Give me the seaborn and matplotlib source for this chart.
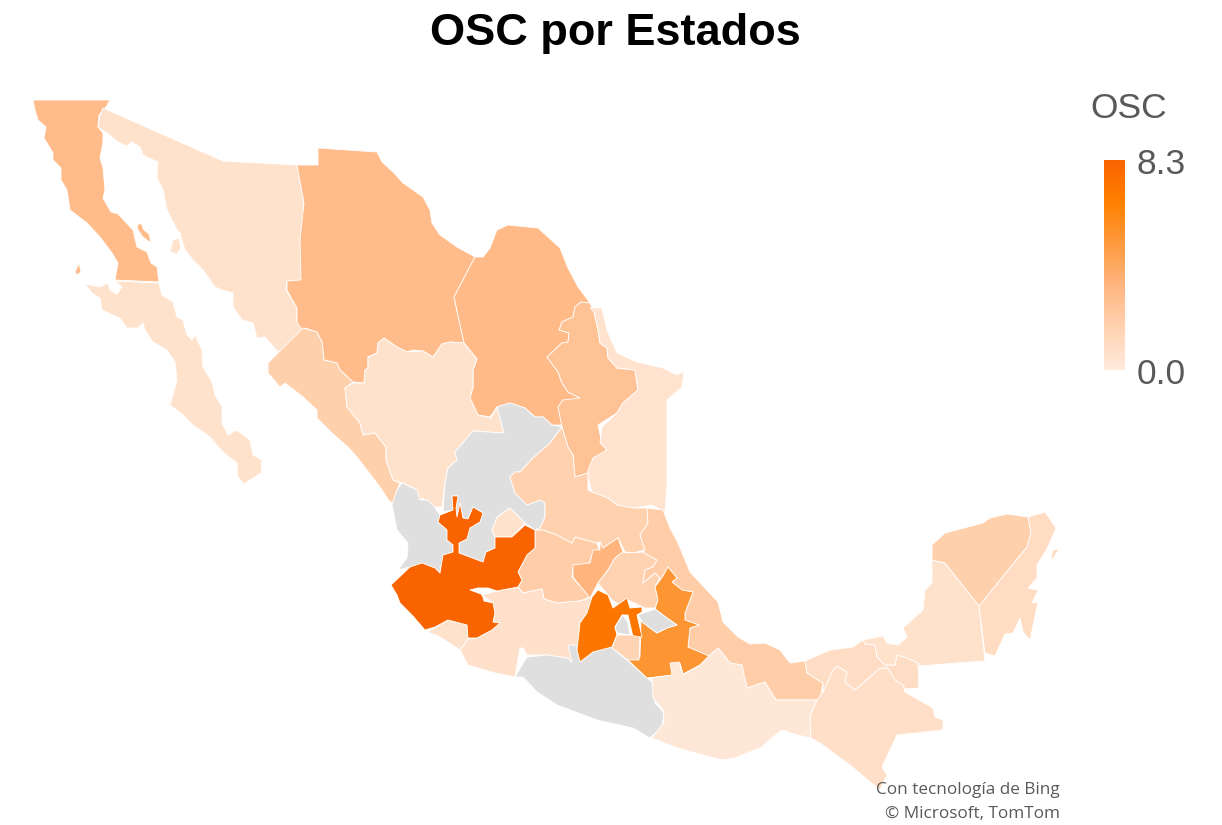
import numpy as np
import matplotlib
matplotlib.use("Agg")
import matplotlib.pyplot as plt
from matplotlib.collections import PolyCollection
from matplotlib.colors import Normalize
import seaborn as sns

STATES = [
    "Baja California", "Baja California Sur", "Sonora", "Chihuahua", "Coahuila",
    "Nuevo Leon", "Tamaulipas", "Sinaloa", "Durango", "Zacatecas", "Nayarit",
    "Aguascalientes", "Guanajuato", "San Luis Potosi", "Queretaro", "Hidalgo",
    "Michoacan", "Colima", "Jalisco", "Guerrero", "Veracruz", "Puebla",
    "Tlaxcala", "Mexico", "CDMX", "Morelos", "Oaxaca", "Chiapas", "Tabasco",
    "Campeche", "Yucatan", "Quintana Roo",
]
OSC_VALUES = [
    3.0, 0.6, 0.6, 3.0, 3.1,
    2.6, 0.5, 1.8, 0.6, np.nan, np.nan,
    0.6, 1.9, 1.7, 3.4, 1.6,
    0.7, 0.6, 8.3, np.nan, 1.9, 5.3,
    np.nan, 7.2, np.nan, 1.5, 0.2, 0.8, 0.9,
    0.6, 1.8, 1.0,
]
VALUE_MIN = 0.0
VALUE_MAX = 8.3

# Contornos de los estados, en pixeles de la imagen
OUTLINES = {
    "Baja California": [
        [(33,100),(110,100),(106,107),(99,115),(98,127),(103,133),(103,142),(100,158),(103,168),(105,190),(103,198),(111,212),(118,214),(133,230),(137,247),(147,252),(151,263),(157,267),(159,282),(115,280),(118,263),(112,253),(100,237),(87,223),(70,210),(67,190),(61,180),(61,168),(53,160),(53,153),(44,138),(46,127),(38,120),(35,110)],
        [(137,225),(141,223),(144,230),(149,234),(151,243),(143,237),(138,230)],
        [(79,263),(81,272),(77,275),(75,272)],
    ],
    "Baja California Sur": [
        [(85,284),(100,287),(108,283),(110,290),(117,294),(122,287),(115,281),(159,283),(162,295),(173,302),(177,317),(183,320),(187,335),(192,340),(195,335),(202,350),(203,367),(212,382),(215,395),(222,407),(222,423),(228,435),(237,430),(250,440),(253,455),(262,460),(261,473),(244,484),(238,477),(237,463),(223,452),(210,437),(193,425),(183,415),(170,405),(177,380),(175,362),(167,350),(153,342),(145,330),(143,323),(138,328),(127,328),(120,318),(102,310),(100,298),(92,293)],
    ],
    "Sonora": [
        [(103,108),(223,161),(297,165),(303,197),(304,230),(300,238),(302,280),(287,281),(286,290),(297,307),(297,320),(303,328),(298,340),(278,352),(265,337),(257,338),(253,323),(242,320),(233,307),(233,293),(222,290),(215,287),(203,270),(193,260),(185,250),(180,233),(177,230),(167,210),(163,190),(157,178),(158,162),(143,155),(140,147),(132,142),(127,146),(118,142),(107,133),(98,127),(100,115)],
        [(173,240),(179,238),(181,248),(177,254),(170,252)],
    ],
    "Chihuahua": [
        [(318,148),(377,152),(382,162),(393,172),(403,183),(423,197),(430,210),(432,223),(440,235),(457,247),(475,257),(454,297),(464,343),(450,342),(442,344),(433,357),(423,351),(413,350),(407,352),(397,347),(384,338),(378,343),(377,353),(368,357),(368,368),(365,370),(364,383),(353,382),(340,370),(337,363),(324,360),(322,342),(317,332),(305,328),(302,330),(297,322),(297,308),(287,290),(287,281),(301,280),(300,240),(304,203),(297,165),(318,165)],
    ],
    "Coahuila": [
        [(475,257),(483,257),(490,248),(497,230),(508,225),(538,228),(560,248),(568,268),(578,287),(590,303),(581,302),(575,307),(573,317),(562,322),(559,330),(569,333),(568,342),(562,343),(547,357),(558,372),(562,383),(568,392),(580,398),(575,402),(563,400),(558,407),(562,425),(552,425),(543,417),(535,417),(525,408),(510,403),(497,407),(490,417),(478,415),(470,398),(473,387),(473,370),(477,359),(464,343),(454,297)],
    ],
    "Nuevo Leon": [
        [(590,303),(594,312),(598,330),(600,343),(607,348),(608,358),(617,368),(635,370),(638,390),(623,403),(617,413),(598,425),(602,443),(607,450),(593,460),(588,473),(575,477),(573,455),(568,447),(562,427),(558,407),(563,400),(580,398),(568,392),(562,383),(558,372),(547,357),(562,343),(568,342),(569,333),(559,330),(562,322),(573,317),(575,307),(581,302)],
    ],
    "Tamaulipas": [
        [(590,308),(602,308),(607,330),(617,353),(637,362),(663,368),(677,375),(684,371),(682,387),(673,395),(667,400),(667,427),(667,483),(665,512),(652,505),(633,508),(617,505),(608,498),(592,492),(588,477),(588,470),(593,458),(607,450),(600,443),(602,427),(617,413),(623,403),(638,390),(635,370),(617,368),(608,358),(607,348),(600,343),(598,330),(594,312)],
    ],
    "Sinaloa": [
        [(303,328),(317,332),(322,342),(324,360),(337,363),(340,370),(353,382),(345,388),(347,407),(360,423),(363,435),(375,433),(386,447),(386,460),(393,480),(400,483),(396,493),(398,503),(390,502),(380,487),(367,470),(357,457),(348,447),(332,433),(317,418),(317,410),(303,397),(285,383),(280,387),(268,373),(268,363),(278,353)],
    ],
    "Durango": [
        [(353,383),(364,383),(365,370),(368,368),(368,357),(377,353),(378,343),(384,338),(397,347),(407,352),(423,351),(433,357),(442,344),(450,342),(464,343),(477,359),(473,370),(473,387),(470,398),(478,415),(491,418),(497,407),(504,433),(473,431),(455,452),(457,460),(448,468),(445,483),(442,507),(430,507),(423,498),(418,502),(417,490),(403,483),(393,480),(386,460),(386,447),(375,433),(363,435),(360,423),(347,407),(345,388)],
    ],
    "Zacatecas": [
        [(497,407),(510,403),(525,408),(535,417),(543,417),(552,425),(562,427),(550,443),(533,458),(520,472),(515,472),(510,477),(515,493),(527,505),(540,500),(545,503),(545,517),(540,528),(535,530),(525,523),(510,508),(497,517),(492,530),(495,537),(495,548),(486,552),(483,562),(459,553),(459,543),(467,539),(470,528),(480,522),(483,513),(473,507),(468,519),(463,518),(460,503),(457,517),(456,508),(458,496),(452,496),(453,510),(443,512),(445,483),(448,468),(457,460),(455,452),(473,431),(504,433)],
    ],
    "Nayarit": [
        [(402,483),(417,490),(420,500),(428,500),(435,508),(440,515),(438,522),(447,530),(447,540),(453,545),(453,552),(443,555),(440,573),(435,568),(422,563),(410,567),(398,570),(407,558),(408,543),(397,530),(392,505),(397,490)],
    ],
    "Aguascalientes": [
        [(492,530),(497,517),(510,508),(525,523),(512,537),(495,537)],
    ],
    "Guanajuato": [
        [(535,548),(535,530),(543,530),(557,535),(572,543),(575,537),(597,543),(600,552),(592,555),(588,567),(573,567),(572,577),(590,597),(580,601),(557,603),(544,599),(542,589),(523,593),(518,587),(522,580),(518,572),(527,555)],
    ],
    "San Luis Potosi": [
        [(562,427),(568,447),(573,455),(575,477),(588,473),(588,490),(592,492),(608,498),(617,505),(633,508),(647,508),(648,523),(640,535),(645,550),(633,553),(625,552),(618,538),(603,548),(600,542),(597,543),(575,537),(572,543),(557,535),(543,530),(535,530),(540,528),(545,517),(545,503),(540,500),(527,505),(515,493),(510,477),(515,472),(520,472),(533,458),(550,443)],
    ],
    "Queretaro": [
        [(600,542),(603,548),(618,538),(623,552),(615,558),(608,570),(598,583),(590,598),(573,577),(573,565),(590,563),(593,550),(600,550)],
    ],
    "Hidalgo": [
        [(623,552),(628,553),(643,552),(648,555),(657,560),(653,567),(645,570),(643,583),(655,573),(660,578),(655,587),(657,595),(658,600),(655,608),(645,608),(628,600),(620,605),(612,600),(608,595),(598,583),(608,570),(615,558)],
    ],
    "Michoacan": [
        [(493,592),(518,587),(523,593),(542,589),(544,599),(557,603),(580,601),(592,597),(587,613),(580,623),(577,650),(572,662),(567,658),(547,655),(527,655),(523,648),(520,648),(515,677),(495,673),(468,665),(460,650),(468,639),(477,638),(492,630),(500,623),(493,622),(495,613),(493,603),(482,595)],
    ],
    "Colima": [
        [(428,632),(448,620),(467,625),(468,639),(460,650),(440,637)],
    ],
    "Jalisco": [
        [(391,585),(410,567),(422,563),(435,568),(440,573),(443,555),(453,552),(453,545),(447,540),(447,530),(438,522),(440,515),(453,510),(452,496),(458,496),(456,508),(457,517),(460,503),(463,518),(468,519),(473,507),(483,513),(480,522),(470,528),(467,539),(459,543),(459,553),(483,562),(486,552),(495,548),(495,537),(512,537),(525,525),(535,530),(535,548),(527,555),(518,572),(522,580),(518,587),(497,591),(488,588),(478,588),(470,590),(481,594),(483,597),(484,601),(493,603),(495,613),(493,622),(500,623),(492,630),(477,638),(468,638),(467,625),(448,620),(435,627),(425,630),(412,615),(400,603),(397,595)],
    ],
    "Guerrero": [
        [(515,677),(527,657),(547,655),(567,658),(572,662),(568,645),(577,645),(577,650),(580,662),(593,652),(607,647),(612,648),(628,661),(647,678),(652,682),(655,703),(664,713),(662,727),(650,738),(633,728),(597,720),(557,705),(537,692),(523,677)],
    ],
    "Veracruz": [
        [(647,508),(663,510),(670,528),(678,543),(690,572),(718,602),(723,622),(738,637),(750,644),(765,643),(780,650),(790,663),(805,661),(807,673),(823,683),(820,700),(776,700),(765,682),(747,688),(743,673),(742,665),(730,663),(718,648),(709,656),(688,647),(690,628),(699,625),(685,620),(685,613),(693,592),(682,590),(672,582),(677,578),(668,567),(663,576),(655,587),(660,578),(655,573),(643,583),(645,570),(653,567),(657,560),(648,555),(643,552),(645,550),(640,535),(648,523)],
    ],
    "Puebla": [
        [(668,567),(677,578),(672,582),(682,590),(693,592),(685,613),(685,620),(699,625),(690,628),(688,647),(709,656),(700,665),(683,674),(680,663),(672,663),(673,675),(647,678),(628,660),(640,657),(641,620),(650,628),(657,633),(667,628),(677,625),(667,618),(655,609),(658,600),(657,595),(655,587),(663,576)],
    ],
    "Tlaxcala": [
        [(638,615),(655,609),(667,618),(677,625),(667,628),(657,633),(650,628),(642,622)],
    ],
    "Mexico": [
        [(598,590),(608,595),(613,608),(627,598),(630,608),(642,607),(642,612),(637,615),(642,637),(633,637),(628,615),(622,615),(615,627),(617,635),(612,647),(593,652),(580,662),(577,650),(580,623),(587,613),(592,597)],
    ],
    "CDMX": [
        [(623,615),(628,623),(630,635),(617,633),(615,627)],
    ],
    "Morelos": [
        [(617,635),(630,635),(640,637),(639,660),(628,660),(612,648)],
    ],
    "Oaxaca": [
        [(652,678),(672,675),(670,663),(679,662),(683,675),(700,665),(710,655),(718,648),(730,663),(742,665),(747,688),(765,682),(776,700),(817,700),(810,717),(811,738),(797,735),(788,732),(782,730),(773,737),(762,747),(735,758),(722,760),(703,755),(677,748),(652,738),(664,722),(663,710),(653,698)],
    ],
    "Chiapas": [
        [(817,700),(823,692),(833,670),(837,666),(847,672),(845,682),(855,690),(880,668),(888,668),(895,680),(903,685),(905,692),(933,708),(935,717),(943,720),(943,730),(897,735),(882,767),(887,775),(880,790),(850,765),(820,743),(811,738),(810,717)],
    ],
    "Tabasco": [
        [(805,661),(830,650),(853,647),(863,640),(865,644),(875,645),(877,657),(885,665),(895,665),(897,655),(907,658),(918,663),(919,688),(905,689),(903,685),(895,680),(888,668),(880,668),(855,690),(845,682),(847,672),(837,666),(833,670),(823,692),(823,683),(807,673)],
    ],
    "Campeche": [
        [(932,560),(945,563),(979,606),(985,661),(919,666),(918,663),(907,658),(897,655),(895,665),(885,665),(877,657),(875,645),(865,644),(863,640),(883,636),(887,643),(898,645),(907,637),(903,628),(923,610),(925,590),(932,583)],
    ],
    "Yucatan": [
        [(932,545),(945,533),(983,523),(990,518),(1007,514),(1028,517),(1031,533),(1027,547),(979,606),(945,563),(932,560)],
    ],
    "Quintana Roo": [
        [(1028,517),(1045,512),(1056,528),(1048,547),(1037,565),(1037,578),(1028,588),(1038,590),(1032,603),(1038,602),(1030,640),(1023,632),(1020,618),(1013,633),(1005,634),(995,656),(985,653),(979,606),(1027,547),(1031,533)],
        [(1053,550),(1059,549),(1053,559),(1051,558)],
    ],
}

COLOR_STOPS = ["#FFEADC", "#FFD2B0", "#FFB680", "#FD9A3F", "#FF8000", "#F96400"]
NO_DATA_COLOR = "#DFDFDF"
TEXT_GREY = "#595959"
W, H = 1222, 825


def main():
    sns.set_theme(style="white")
    plt.rcParams["font.family"] = ["Liberation Sans", "DejaVu Sans"]

    cmap = sns.blend_palette(COLOR_STOPS, n_colors=256, as_cmap=True)
    cmap.set_bad(NO_DATA_COLOR)
    norm = Normalize(VALUE_MIN, VALUE_MAX)

    fig = plt.figure(figsize=(W / 100, H / 100), dpi=100, facecolor="white")
    ax = fig.add_axes([0, 0, 1, 1])
    ax.set_xlim(0, W)
    ax.set_ylim(H, 0)
    ax.axis("off")

    polys, vals = [], []
    for state, value in zip(STATES, OSC_VALUES):
        for ring in OUTLINES[state]:
            polys.append(ring)
            vals.append(value)
    coll = PolyCollection(polys, array=np.ma.masked_invalid(vals), cmap=cmap, norm=norm,
                          edgecolors="white", linewidths=0.6)
    ax.add_collection(coll)

    ax.text(615, 33, "OSC por Estados", ha="center", va="center",
            fontsize=32.5, fontweight="bold", color="black")
    ax.text(1090, 108, "OSC", ha="left", va="center", fontsize=25.5, color=TEXT_GREY)
    ax.text(1137, 164, "8.3", ha="left", va="center", fontsize=25.5, color=TEXT_GREY)
    ax.text(1137, 374, "0.0", ha="left", va="center", fontsize=25.5, color=TEXT_GREY)
    ax.text(1060, 790, "Con tecnología de Bing", ha="right", va="center",
            fontsize=12.3, color=TEXT_GREY, family=["Open Sans", "DejaVu Sans"])
    ax.text(1060, 814, "© Microsoft, TomTom", ha="right", va="center",
            fontsize=12.3, color=TEXT_GREY, family=["Open Sans", "DejaVu Sans"])

    # barra de color de la leyenda
    cax = fig.add_axes([1104 / W, 1 - 370 / H, 21 / W, 210 / H])
    ramp = np.linspace(VALUE_MAX, VALUE_MIN, 210).reshape(-1, 1)
    sns.heatmap(ramp, ax=cax, cmap=cmap, norm=norm, cbar=False,
                xticklabels=False, yticklabels=False)

    fig.savefig("out.png", dpi=100)
    plt.close(fig)


if __name__ == "__main__":
    main()
